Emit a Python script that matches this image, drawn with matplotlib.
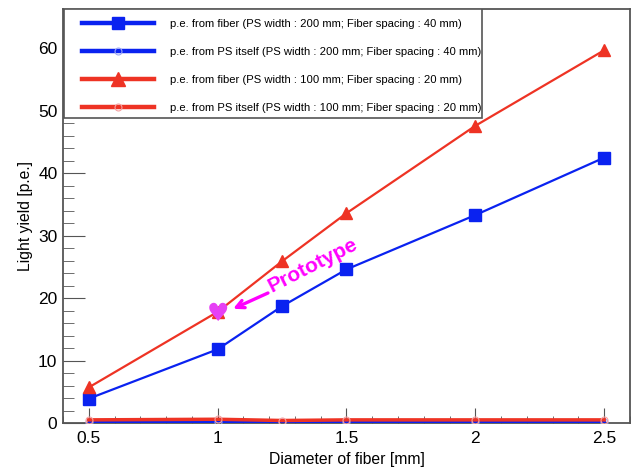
import matplotlib
matplotlib.use("Agg")
import matplotlib.pyplot as plt
from matplotlib.ticker import MultipleLocator
from matplotlib.patches import Rectangle

plt.rcParams['font.family'] = ['Liberation Sans', 'DejaVu Sans']

diameter = [0.5, 1.0, 1.25, 1.5, 2.0, 2.5]
fiber_200 = [3.9, 11.8, 18.7, 24.6, 33.3, 42.5]
ps_200 = [0.2, 0.2, 0.2, 0.2, 0.2, 0.2]
fiber_100 = [5.7, 17.8, 25.9, 33.6, 47.6, 59.7]
ps_100 = [0.5, 0.6, 0.4, 0.5, 0.5, 0.5]

labels = [
    "p.e. from fiber (PS width : 200 mm; Fiber spacing : 40 mm)",
    "p.e. from PS itself (PS width : 200 mm; Fiber spacing : 40 mm)",
    "p.e. from fiber (PS width : 100 mm; Fiber spacing : 20 mm)",
    "p.e. from PS itself (PS width : 100 mm; Fiber spacing : 20 mm)",
]

proto_x = [1.0]
proto_y = [17.5]

blue = '#0a22f0'
red = '#ee3324'
mag = '#ff00ff'

fig = plt.figure(figsize=(6.36, 4.67), dpi=100)
ax = fig.add_axes([63/636, 1-423/467, (630-63)/636, (423-9)/467])

l1, = ax.plot(diameter, fiber_200, color=blue, lw=1.6, marker='s', ms=8, mec=blue, mfc=blue, zorder=3)
l2, = ax.plot(diameter, ps_200, color=blue, lw=2.5, marker='o', ms=5, mfc='none', mec='#9aa5f5', mew=0.8, zorder=3)
l3, = ax.plot(diameter, fiber_100, color=red, lw=1.6, marker='^', ms=9, mec=red, mfc=red, zorder=3)
l4, = ax.plot(diameter, ps_100, color=red, lw=2.5, marker='o', ms=5, mfc='none', mec='#f5a0a0', mew=0.8, zorder=3)

# prototype heart marker
for px, py in zip(proto_x, proto_y):
    ax.text(px, py, '\u2665', color='#e640f5', fontsize=18, ha='center', va='center',
            family='DejaVu Sans', zorder=5)

ax.annotate('', xy=(1.05, 18.1), xytext=(1.205, 21.0),
            arrowprops=dict(arrowstyle='->', color=mag, lw=2.4, mutation_scale=14))
ax.text(1.37, 25.3, 'Prototype', color=mag, fontsize=15, fontweight='bold',
        rotation=27, ha='center', va='center', rotation_mode='anchor')

ax.set_xlim(0.4, 2.6)
ax.set_ylim(0, 66.3)
ax.xaxis.set_major_locator(MultipleLocator(0.5))
ax.xaxis.set_minor_locator(MultipleLocator(0.1))
ax.yaxis.set_major_locator(MultipleLocator(10))
ax.yaxis.set_minor_locator(MultipleLocator(2))
ax.set_xticks([0.5, 1.0, 1.5, 2.0, 2.5])
ax.set_xticklabels(['0.5', '1', '1.5', '2', '2.5'])
ax.tick_params(which='both', direction='in', top=False, right=False, labelsize=12.5, colors='#555555', labelcolor='black')
ax.tick_params(axis='x', which='major', length=11, pad=6)
ax.tick_params(axis='x', which='minor', length=5)
ax.tick_params(axis='y', which='major', length=16, pad=4)
ax.tick_params(axis='y', which='minor', length=8)
for s in ax.spines.values():
    s.set_color('#555555')
    s.set_linewidth(1.3)

ax.set_xlabel('Diameter of fiber [mm]', fontsize=11.3)
ax.set_ylabel('Light yield [p.e.]', fontsize=11.3)

leg = ax.legend([l1, l2, l3, l4], labels, loc='upper left', bbox_to_anchor=(0.015, 1.0),
                fontsize=8.15, frameon=False, borderaxespad=0.0,
                handlelength=6.4, handletextpad=1.42, labelspacing=1.57,
                borderpad=0.92)
for h in leg.legend_handles:
    h.set_linewidth(3.2)
leg.legend_handles[0].set_markersize(8.5)
leg.legend_handles[2].set_markersize(9.5)
leg.set_zorder(6)

# legend box
ax.add_patch(Rectangle((1/567, (423-118)/414), (482-64)/567, 1-(423-118)/414,
                       transform=ax.transAxes, facecolor='white', edgecolor='#555555',
                       lw=1.2, zorder=5.5))

fig.savefig('out.png', dpi=100)
